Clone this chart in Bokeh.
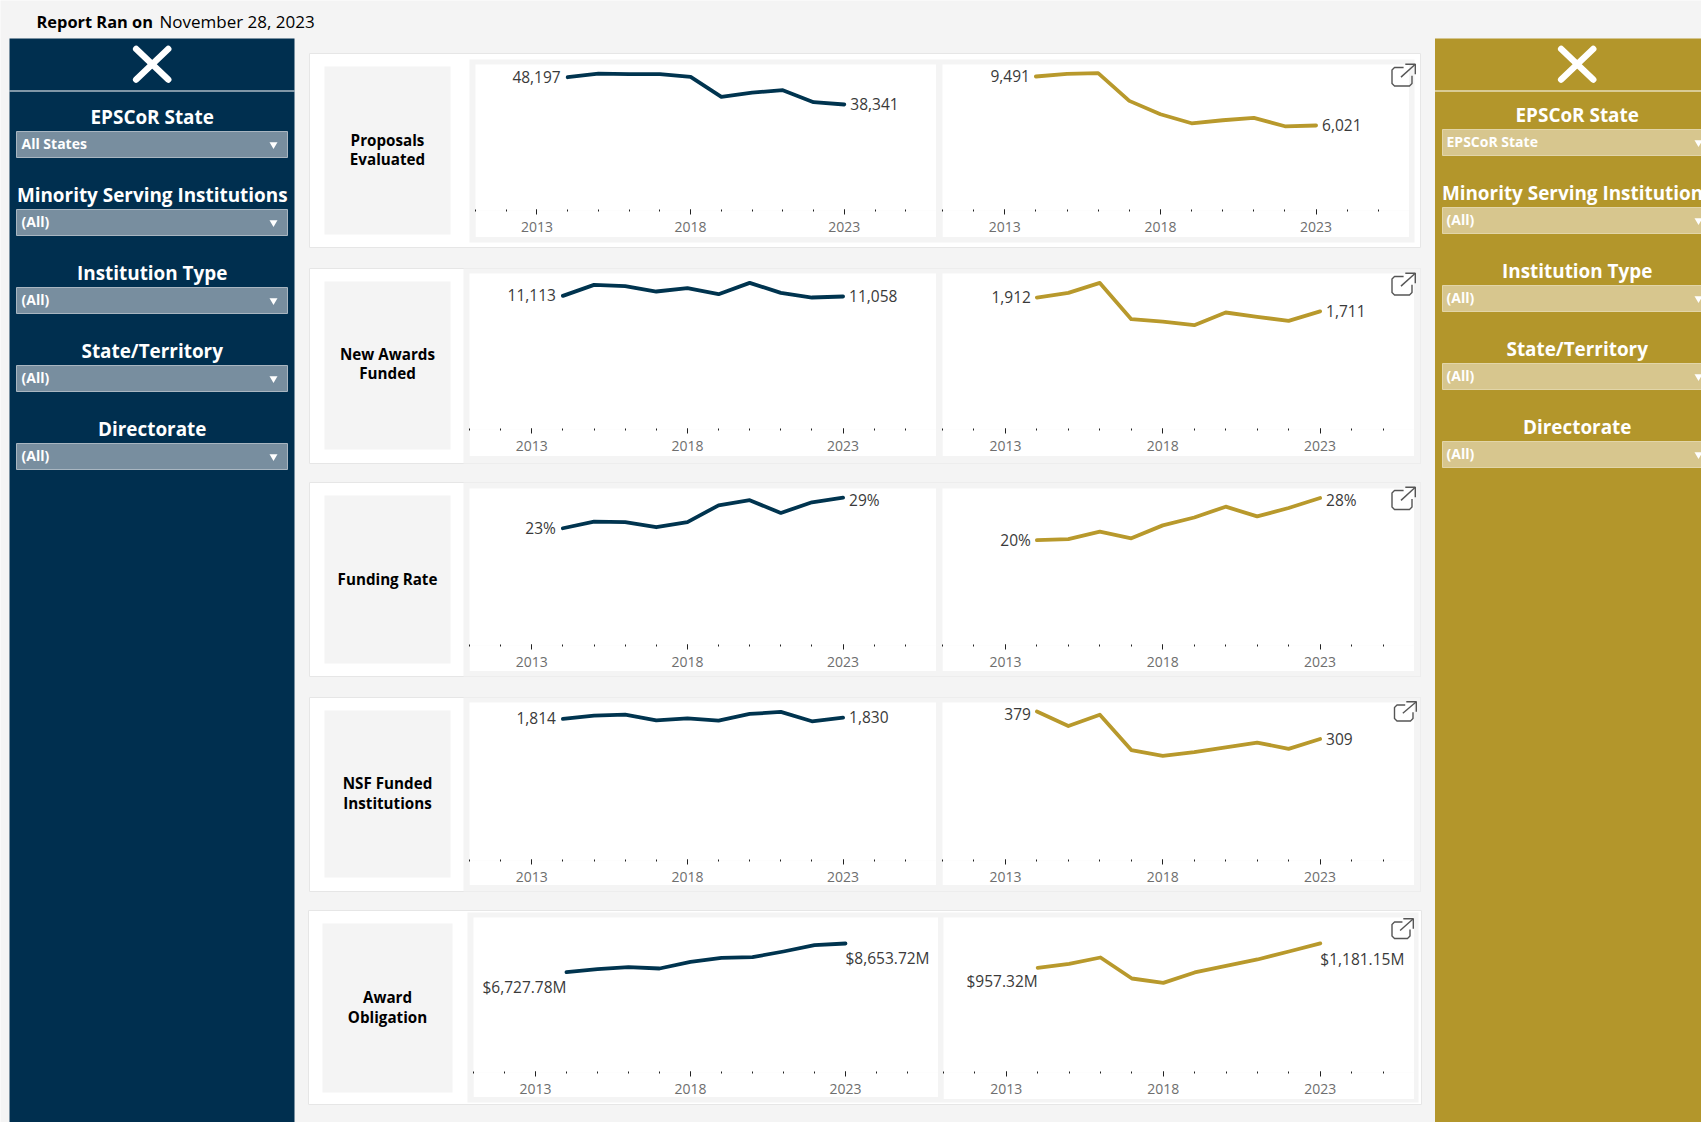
from bokeh.core.properties import value
from bokeh.embed import file_html
from bokeh.layouts import column
from bokeh.models import BasicTickFormatter, FixedTicker, Range1d
from bokeh.plotting import figure
from bokeh.resources import INLINE

# ---- report data -----------------------------------------------------------
years = [2014, 2015, 2016, 2017, 2018, 2019, 2020, 2021, 2022, 2023]
tick_years = [2013, 2018, 2023]
minor_years = list(range(2011, 2027))

proposals_all = [48197, 49525, 49285, 49285, 48320, 41090, 42657, 43500, 39162, 38341]
proposals_epscor = [9491, 9681, 9728, 7764, 6817, 6178, 6391, 6557, 5965, 6021]
awards_all = [11113, 12027, 11916, 11473, 11750, 11251, 12193, 11362, 10974, 11058]
awards_epscor = [1912, 1980, 2124, 1598, 1564, 1511, 1695, 1632, 1574, 1711]
rate_all = [23, 24.3, 24.2, 23.2, 24.2, 27.5, 28.5, 26.0, 28.1, 29]
rate_epscor = [20, 20.2, 21.6, 20.35, 22.8, 24.3, 26.35, 24.5, 26.1, 28]
institutions_all = [1814, 1857, 1870, 1797, 1822, 1792, 1878, 1904, 1784, 1830]
institutions_epscor = [379, 342, 371, 281, 266, 276, 288, 300, 284, 309]
obligation_all = [6727.78, 6930, 7065, 6975, 7423, 7691, 7736, 8116, 8541, 8653.72]
obligation_epscor = [957.32, 994, 1052, 860, 820, 915, 976, 1034, 1107, 1181.15]

metric_names = [["Proposals", "Evaluated"], ["New Awards", "Funded"], ["Funding Rate"],
                ["NSF Funded", "Institutions"], ["Award", "Obligation"]]
filter_titles = ["EPSCoR State", "Minority Serving Institutions", "Institution Type",
                 "State/Territory", "Directorate"]
left_filter_values = ["All States", "(All)", "(All)", "(All)", "(All)"]
right_filter_values = ["EPSCoR State", "(All)", "(All)", "(All)", "(All)"]

# ---- palette and fonts -----------------------------------------------------
PAGE = "#F4F4F4"
EDGE = "#E6E6E6"
NAVY = "#002F4F"
NAVY_LINE = "#00344F"
NAVY_DROP = "#788E9F"
NAVY_DROP_EDGE = "#A9B6C1"
GOLD = "#B3962B"
GOLD_LINE = "#B8992C"
GOLD_DROP = "#D7C68E"
GOLD_DROP_EDGE = "#E2D5A8"
FONT = "Open Sans"


def fmt_count(v):
    return f"{v:,.0f}"


def fmt_pct(v):
    return f"{v:.0f}%"


def fmt_money(v):
    return f"${v:,.2f}M"


# Each row: panel box, card geometry and the two trend panes.
# Pane tuple: left, right, top, baseline, bottom, y max, values, formatter, colour,
#             start label offset, end label offset
rows = [
    dict(panel=(309, 53, 1420, 247), gray=(469, 59, 1414, 242), box=(324, 66, 450, 234),
         title_y=[140, 159],
         panes=[(475, 936, 64, 210, 237, 52800, proposals_all, fmt_count, NAVY_LINE, (-7, 0), (6, 0)),
                (942, 1409, 64, 210, 237, 10340, proposals_epscor, fmt_count, GOLD_LINE, (-6, 0), (6, 0))]),
    dict(panel=(309, 268, 1420, 463), gray=(463, 268, 1420, 463), box=(324, 281, 450, 449),
         title_y=[354, 373],
         panes=[(469, 936, 273, 429, 456, 12970, awards_all, fmt_count, NAVY_LINE, (-7, 0), (6, 0)),
                (942, 1414, 273, 429, 456, 2260, awards_epscor, fmt_count, GOLD_LINE, (-6, 0), (6, 0))]),
    dict(panel=(309, 482, 1420, 676), gray=(463, 482, 1420, 676), box=(324, 495, 450, 663),
         title_y=[579],
         panes=[(469, 936, 488, 645, 671, 30.8, rate_all, fmt_pct, NAVY_LINE, (-7, 0), (6, 3)),
                (942, 1414, 488, 645, 671, 29.8, rate_epscor, fmt_pct, GOLD_LINE, (-6, 0), (6, 3))]),
    dict(panel=(309, 697, 1420, 891), gray=(463, 697, 1420, 891), box=(324, 710, 450, 877),
         title_y=[783, 803],
         panes=[(469, 936, 702, 860, 885, 2025, institutions_all, fmt_count, NAVY_LINE, (-7, 0), (6, 0)),
                (942, 1414, 702, 860, 885, 402, institutions_epscor, fmt_count, GOLD_LINE, (-6, 3), (6, 0))]),
    dict(panel=(308, 910, 1421, 1104), gray=(467, 912, 1418, 1102), box=(322, 923, 452, 1092),
         title_y=[997, 1017],
         panes=[(473, 938, 917, 1072, 1097, 10397, obligation_all, fmt_money, NAVY_LINE, (0, 15), (0, 15)),
                (943, 1414, 917, 1072, 1099, 1418, obligation_epscor, fmt_money, GOLD_LINE, (0, 14), (0, 16))]),
]

# External-link icons: left, top, width, height of the rounded square
icons = [(1391.5, 67, 20, 18.5), (1391.5, 276, 20, 18.5), (1391.5, 490, 20, 19),
         (1394, 704.5, 18.5, 16), (1391.5, 921.5, 18, 16.5)]


def page_figure(**kw):
    p = figure(width=1701, height=1122, x_range=Range1d(0, 1701), y_range=Range1d(1122, 0),
               x_axis_location=None, y_axis_location=None, toolbar_location=None,
               output_backend="svg", min_border=0, outline_line_color=None, **kw)
    p.grid.visible = False
    return p


def box(p, l, t, r, b, fill, line=None):
    p.quad(left=[l], right=[r], top=[t], bottom=[b], fill_color=fill,
           line_color=line, line_width=1 if line else 0)


def label(p, x, y, text, size, color, bold=False, align="center"):
    p.text(x=[x], y=[y - 1.5], text=[text], text_font=value(FONT), text_font_size=f"{size}px",
           text_font_style="bold" if bold else "normal", text_color=color,
           text_align=align, text_baseline="middle")


def sidebar(p, l, r, cx, fill, drop_l, drop_r, drop_fill, drop_edge, arrow_x, head_y, drop_y, text_x, values):
    box(p, l, 38, r, 1122, fill)
    p.segment(x0=[l], x1=[r], y0=[90.5], y1=[90.5], line_color="white", line_width=1.2)
    p.multi_line(xs=[[cx - 16, cx + 16], [cx - 16, cx + 16]], ys=[[48.5, 79], [79, 48.5]],
                 line_color="white", line_width=6.5, line_cap="round")
    for title, val, hy, dy in zip(filter_titles, values, head_y, drop_y):
        label(p, cx, hy, title, 18.9, "white", bold=True)
        box(p, drop_l, dy, drop_r, dy + 26, drop_fill, drop_edge)
        label(p, text_x, dy + 13, val, 14, "white", bold=True, align="left")
        p.scatter(x=[arrow_x], y=[dy + 13], marker="inverted_triangle", size=8,
                  fill_color="white", line_color=None)


page = page_figure(background_fill_color=PAGE, border_fill_color="white")
box(page, 9, 8, 1701, 1122, PAGE)
label(page, 36, 22, "Report Ran on", 16.4, "black", bold=True, align="left")
label(page, 159, 22, "November 28, 2023", 17, "black", align="left")

sidebar(page, 9, 294, 151.7, NAVY, 16, 287, NAVY_DROP, NAVY_DROP_EDGE, 273,
        [117.7, 196, 274, 352, 430], [131, 209, 287, 365, 443], 21, left_filter_values)
sidebar(page, 1434.5, 1701, 1576.7, GOLD, 1442, 1713, GOLD_DROP, GOLD_DROP_EDGE, 1698,
        [115.7, 193.7, 271.7, 349.7, 427.7], [129, 207, 285, 363, 441], 1446, right_filter_values)

for row, names in zip(rows, metric_names):
    box(page, *row["panel"], "white", EDGE)
    box(page, *row["gray"], PAGE)
    box(page, *row["box"], PAGE)
    cx = (row["box"][0] + row["box"][2]) / 2
    for name, y in zip(names, row["title_y"]):
        label(page, cx, y + 0.5, name, 15.2, "black", bold=True)


def trend(left, right, top, base, bottom, ymax, values, formatter, color, first_off, last_off):
    w, h = right - left, bottom - top
    p = figure(width=w, height=h, frame_width=w, frame_height=base - top,
               x_range=Range1d(2011, 2026), y_range=Range1d(0, ymax),
               toolbar_location=None, output_backend="svg", y_axis_location=None,
               min_border_left=0, min_border_right=0, min_border_top=0, min_border_bottom=bottom - base,
               outline_line_color=None, background_fill_color="white", border_fill_color="white")
    p.grid.visible = False
    ax = p.xaxis[0]
    ax.ticker = FixedTicker(ticks=tick_years, minor_ticks=minor_years)
    ax.formatter = BasicTickFormatter(use_scientific=False)
    ax.axis_line_color = None
    ax.major_tick_in = 1
    ax.major_tick_out = 4
    ax.minor_tick_in = 1
    ax.minor_tick_out = 1
    ax.major_tick_line_color = "#222222"
    ax.minor_tick_line_color = "#222222"
    ax.major_label_standoff = 7
    ax.major_label_text_font = FONT
    ax.major_label_text_font_size = "14px"
    ax.major_label_text_color = "#6E6E6E"
    p.line(years, values, line_color=color, line_width=3.8, line_cap="round", line_join="round")
    # first and last values are labelled at the ends of the line
    p.text(x=[years[0]], y=[values[0]], text=[formatter(values[0])], x_offset=first_off[0], y_offset=first_off[1] - 0.5,
           text_font=value(FONT), text_font_size="15.5px", text_color="#3A3A3A",
           text_align="right", text_baseline="middle")
    p.text(x=[years[-1]], y=[values[-1]], text=[formatter(values[-1])], x_offset=last_off[0], y_offset=last_off[1] - 0.5,
           text_font=value(FONT), text_font_size="15.5px", text_color="#3A3A3A",
           text_align="left", text_baseline="middle")
    p.styles = {"position": "absolute", "left": f"{left}px", "top": f"{top}px"}
    return p


charts = [trend(*pane) for row in rows for pane in row["panes"]]

# Open-in-new-window icons sit on top of the right-hand panes.
overlay = page_figure(background_fill_alpha=0, border_fill_alpha=0)
overlay.styles = {"position": "absolute", "left": "0px", "top": "0px", "pointer-events": "none"}
for x, y, w, h in icons:
    r = 2.5
    xs = [x + w * 0.58, x + r, x, x, x + r, x + w - r, x + w, x + w]
    ys = [y, y, y + r, y + h - r, y + h, y + h, y + h - r, y + h * 0.45]
    overlay.line(xs, ys, line_color="#555555", line_width=1.4, line_join="round")
    tip_x, tip_y = x + w + 3.3, y - 3.3
    overlay.multi_line(
        xs=[[x + w * 0.45, tip_x], [tip_x - 10, tip_x, tip_x]],
        ys=[[y + h * 0.52, tip_y], [tip_y, tip_y, tip_y + 10]],
        line_color="#555555", line_width=1.4)

page.styles = {"position": "absolute", "left": "0px", "top": "0px"}
root = column(page, *charts, overlay, width=1701, height=1122,
              styles={"position": "relative", "overflow": "hidden"})

open("out.html", "w").write(file_html(root, INLINE))
